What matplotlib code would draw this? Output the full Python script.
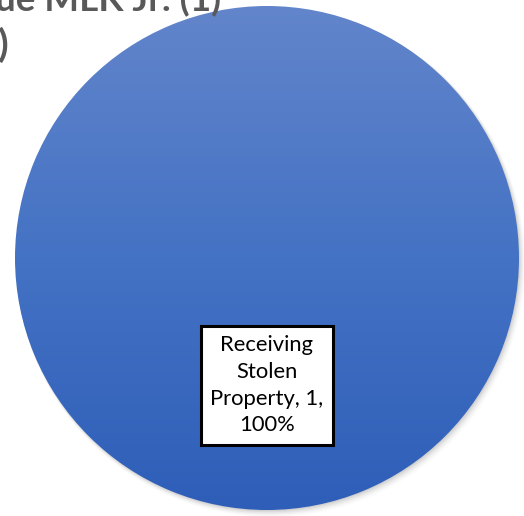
import textwrap
import numpy as np
import matplotlib
matplotlib.use("Agg")
import matplotlib.pyplot as plt
from matplotlib.colors import LinearSegmentedColormap

# Data
categories = ["Receiving Stolen Property"]
counts = [1]
title_lines = ["Avenue MLK Jr. (1)", ")"]

W, H, DPI = 524, 516, 100
fig = plt.figure(figsize=(W / DPI, H / DPI), dpi=DPI)
ax = fig.add_axes([0, 0, 1, 1])

# pie geometry in pixels: centre and radius
cx, cy, R = 267, 258, 252

total = sum(counts)
labels = [
    textwrap.fill(f"{c}, {v}, {v / total * 100:.0f}%", width=12)
    for c, v in zip(categories, counts)
]

# soft shadow below/right of the pie
for i, a in enumerate(np.linspace(0.05, 0.01, 6)):
    off = 0.004 + i * 0.003
    ax.add_patch(plt.Circle((off * 0.8, -off), 1.0 + i * 0.002,
                            color="black", alpha=a, lw=0, zorder=0))

wedges, texts = ax.pie(
    counts, labels=labels, startangle=90, counterclock=False,
    labeldistance=0.505, radius=1.0, frame=True,
    wedgeprops=dict(linewidth=0, facecolor="#4472C4"),
    textprops=dict(ha="center", va="center", fontsize=15.8,
                   family="Lato", color="black", linespacing=1.42),
)
ax.set_xlim(-cx / R, (W - cx) / R)
ax.set_ylim(-(H - cy) / R, cy / R)
ax.set_aspect("auto")
ax.axis("off")

# vertical gradient fill clipped to each wedge
cmap = LinearSegmentedColormap.from_list("blue", ["#2E5EB8", "#4472C4", "#6285CB"])
grad = np.linspace(0, 1, 256).reshape(-1, 1)
for w in wedges:
    w.set_facecolor("none")
    im = ax.imshow(grad, cmap=cmap, origin="lower", extent=(-1, 1, -1, 1),
                   aspect="auto", zorder=1, interpolation="bicubic")
    im.set_clip_path(w)

for t in texts:
    t.set_zorder(5)
    t.set_bbox(dict(boxstyle="square,pad=0.42", facecolor="white",
                    edgecolor="black", linewidth=2.2))

# title, partly outside the canvas
fig.text(221 / W, 1 - 11 / H, title_lines[0], ha="right", va="baseline",
         fontsize=26.5, fontweight="bold", family="Lato", color="#595959")
fig.text(9 / W, 1 - 57 / H, title_lines[1], ha="right", va="baseline",
         fontsize=28, fontweight="bold", family="Lato", color="#595959")

fig.savefig("out.png", dpi=DPI, facecolor="white")
